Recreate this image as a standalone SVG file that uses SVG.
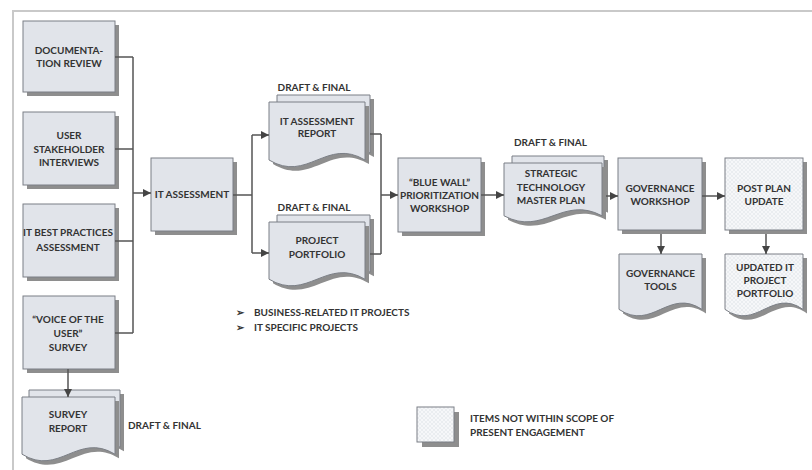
<svg xmlns="http://www.w3.org/2000/svg" xmlns:xlink="http://www.w3.org/1999/xlink" width="812" height="470" viewBox="0 0 812 470">
  <style>
    .frame { fill: none; stroke: #c9c9c9; stroke-width: 2; }
    .box { fill: #e1e4ea; stroke: #7b7f86; stroke-width: 1; }
    .oos { fill: url(#hatch); stroke: #7b7f86; stroke-width: 1; }
    .shadow { fill: #8e8e8e; stroke: none; }
    .lbl { font-family: Lato, "Liberation Sans", sans-serif; font-weight: 700; font-size: 10px; fill: #333; text-anchor: middle; }
    .note { font-family: Lato, "Liberation Sans", sans-serif; font-weight: 700; font-size: 10px; fill: #333; }
    .wire { fill: none; stroke: #555; stroke-width: 1.5; }
  </style>
  <defs>
    <marker id="head" viewBox="0 0 10 10" refX="10" refY="5" markerWidth="9" markerHeight="8" markerUnits="userSpaceOnUse" orient="auto">
      <path d="M0,0 L10,5 L0,10 Z" fill="#444"/>
    </marker>
    <pattern id="hatch" width="4" height="4" patternUnits="userSpaceOnUse">
      <rect width="4" height="4" fill="#f6f7f9"/>
      <path d="M0,0 L4,4 M4,0 L0,4" stroke="#e2e5ea" stroke-width="0.6"/>
    </pattern>
  </defs>

  <!-- outer frame -->
  <path class="frame" d="M13,470 V11 H812"/>

  <!-- input boxes -->
  <g id="doc-review">
    <rect class="shadow" x="27" y="25" width="92" height="71"/>
    <rect class="box" x="23" y="21" width="92" height="71"/>
    <text class="lbl" x="69" y="54">DOCUMENTA-</text>
    <text class="lbl" x="69" y="67">TION REVIEW</text>
  </g>
  <g id="stakeholder-interviews">
    <rect class="shadow" x="27" y="116" width="92" height="73"/>
    <rect class="box" x="23" y="112" width="92" height="73"/>
    <text class="lbl" x="69" y="139">USER</text>
    <text class="lbl" x="69" y="152.5">STAKEHOLDER</text>
    <text class="lbl" x="69" y="166">INTERVIEWS</text>
  </g>
  <g id="best-practices">
    <rect class="shadow" x="27" y="208" width="92" height="73"/>
    <rect class="box" x="23" y="204" width="92" height="73"/>
    <text class="lbl" x="68" y="236">IT BEST PRACTICES</text>
    <text class="lbl" x="68" y="250.5">ASSESSMENT</text>
  </g>
  <g id="voice-survey">
    <rect class="shadow" x="27" y="300" width="92" height="73"/>
    <rect class="box" x="23" y="296" width="92" height="73"/>
    <text class="lbl" x="68" y="323">“VOICE OF THE</text>
    <text class="lbl" x="68" y="337">USER”</text>
    <text class="lbl" x="68" y="350.5">SURVEY</text>
  </g>

  <!-- survey report (stacked document) -->
  <g id="survey-report">
    <path class="shadow" transform="translate(4,4)" d="M29,390 H120 V447.2 C83.6,424.5 65.4,470 29,447.2 Z"/>
    <path class="box" d="M29,390 H120 V447.2 C83.6,424.5 65.4,470 29,447.2 Z"/>
    <path class="shadow" transform="translate(4,4)" d="M22,397 H115 V454.2 C77.8,431.5 59.2,477 22,454.2 Z"/>
    <path class="box" d="M22,397 H115 V454.2 C77.8,431.5 59.2,477 22,454.2 Z"/>
    <text class="lbl" x="68" y="417.5">SURVEY</text>
    <text class="lbl" x="68" y="431.5">REPORT</text>
    <text class="note" x="128" y="428.5">DRAFT &amp; FINAL</text>
  </g>

  <g id="it-assessment">
    <rect class="shadow" x="155" y="162" width="82" height="73"/>
    <rect class="box" x="151" y="158" width="82" height="73"/>
    <text class="lbl" x="192" y="197.5">IT ASSESSMENT</text>
  </g>

  <!-- IT assessment report (stacked document) -->
  <g id="assessment-report">
    <text class="lbl" x="314" y="90.5">DRAFT &amp; FINAL</text>
    <path class="shadow" transform="translate(4,4)" d="M277,95 H370 V153 C332.8,130 314.2,176.2 277,153 Z"/>
    <path class="box" d="M277,95 H370 V153 C332.8,130 314.2,176.2 277,153 Z"/>
    <path class="shadow" transform="translate(4,4)" d="M269,102 H365 V160 C326.6,137 307.4,183.2 269,160 Z"/>
    <path class="box" d="M269,102 H365 V160 C326.6,137 307.4,183.2 269,160 Z"/>
    <text class="lbl" x="317" y="124.5">IT ASSESSMENT</text>
    <text class="lbl" x="317" y="137">REPORT</text>
  </g>

  <!-- project portfolio (stacked document) -->
  <g id="project-portfolio">
    <text class="lbl" x="314" y="210.5">DRAFT &amp; FINAL</text>
    <path class="shadow" transform="translate(4,4)" d="M277,215 H370 V272.2 C332.8,249.5 314.2,295 277,272.2 Z"/>
    <path class="box" d="M277,215 H370 V272.2 C332.8,249.5 314.2,295 277,272.2 Z"/>
    <path class="shadow" transform="translate(4,4)" d="M269,222 H365 V279.2 C326.6,256.5 307.4,302 269,279.2 Z"/>
    <path class="box" d="M269,222 H365 V279.2 C326.6,256.5 307.4,302 269,279.2 Z"/>
    <text class="lbl" x="317" y="243.5">PROJECT</text>
    <text class="lbl" x="317" y="257.5">PORTFOLIO</text>
  </g>

  <!-- portfolio contents -->
  <g id="portfolio-notes">
    <text class="note" x="236" y="315.5">➢</text>
    <text class="note" x="254" y="315.5">BUSINESS-RELATED IT PROJECTS</text>
    <text class="note" x="236" y="330.5">➢</text>
    <text class="note" x="254" y="330.5">IT SPECIFIC PROJECTS</text>
  </g>

  <g id="blue-wall">
    <rect class="shadow" x="402" y="162" width="83" height="74"/>
    <rect class="box" x="398" y="158" width="83" height="74"/>
    <text class="lbl" x="439.5" y="185.5">“BLUE WALL”</text>
    <text class="lbl" x="439.5" y="198.5">PRIORITIZATION</text>
    <text class="lbl" x="439.5" y="211.5">WORKSHOP</text>
  </g>

  <!-- strategic technology master plan (stacked document) -->
  <g id="master-plan">
    <text class="note" x="514" y="145.5">DRAFT &amp; FINAL</text>
    <path class="shadow" transform="translate(4,4)" d="M512,156 H604 V208.8 C567.2,187.8 548.8,229.8 512,208.8 Z"/>
    <path class="box" d="M512,156 H604 V208.8 C567.2,187.8 548.8,229.8 512,208.8 Z"/>
    <path class="shadow" transform="translate(4,4)" d="M504,163 H602 V215.8 C562.8,194.8 543.2,236.8 504,215.8 Z"/>
    <path class="box" d="M504,163 H602 V215.8 C562.8,194.8 543.2,236.8 504,215.8 Z"/>
    <text class="lbl" x="551" y="176.5">STRATEGIC</text>
    <text class="lbl" x="551" y="190.5">TECHNOLOGY</text>
    <text class="lbl" x="551" y="204">MASTER PLAN</text>
  </g>

  <g id="governance-workshop">
    <rect class="shadow" x="622" y="162" width="84" height="72"/>
    <rect class="box" x="618" y="158" width="84" height="72"/>
    <text class="lbl" x="660" y="191.5">GOVERNANCE</text>
    <text class="lbl" x="660" y="205">WORKSHOP</text>
  </g>

  <g id="post-plan-update">
    <rect class="shadow" x="729" y="162" width="78" height="72"/>
    <rect class="oos" x="725" y="158" width="78" height="72"/>
    <text class="lbl" x="764" y="191.5">POST PLAN</text>
    <text class="lbl" x="764" y="205">UPDATE</text>
  </g>

  <g id="governance-tools">
    <path class="shadow" transform="translate(4,4)" d="M619,254 H702 V309.4 C668.8,287.4 652.2,331.5 619,309.4 Z"/>
    <path class="box" d="M619,254 H702 V309.4 C668.8,287.4 652.2,331.5 619,309.4 Z"/>
    <text class="lbl" x="660.5" y="276.5">GOVERNANCE</text>
    <text class="lbl" x="660.5" y="290">TOOLS</text>
  </g>

  <g id="updated-portfolio">
    <path class="shadow" transform="translate(4,4)" d="M725,254 H803 V309.4 C771.8,287.4 756.2,331.5 725,309.4 Z"/>
    <path class="oos" d="M725,254 H803 V309.4 C771.8,287.4 756.2,331.5 725,309.4 Z"/>
    <text class="lbl" x="765" y="270.5">UPDATED IT</text>
    <text class="lbl" x="765" y="283.5">PROJECT</text>
    <text class="lbl" x="765" y="296.5">PORTFOLIO</text>
  </g>

  <!-- legend -->
  <g id="legend">
    <rect class="shadow" x="422" y="412" width="37" height="35"/>
    <rect class="oos" x="417" y="407" width="37" height="35"/>
    <text class="note" x="470" y="421.5">ITEMS NOT WITHIN SCOPE OF</text>
    <text class="note" x="470" y="435.5">PRESENT ENGAGEMENT</text>
  </g>

  <!-- connectors, drawn over the shapes they join -->
  <g id="connectors">
    <path class="wire" d="M115,57 H133 M115,149 H133 M115,241 H133 M115,333 H133 M133,57 V333"/>
    <path class="wire" marker-end="url(#head)" d="M133,193 H151"/>
    <path class="wire" marker-end="url(#head)" d="M68,369 V397"/>
    <path class="wire" d="M233,195 H252 M252,135 V253"/>
    <path class="wire" marker-end="url(#head)" d="M252,135 H269"/>
    <path class="wire" marker-end="url(#head)" d="M252,253 H269"/>
    <path class="wire" d="M370,134 H381 M370,254 H381 M381,134 V254"/>
    <path class="wire" marker-end="url(#head)" d="M381,195 H398"/>
    <path class="wire" marker-end="url(#head)" d="M481,195 H504"/>
    <path class="wire" marker-end="url(#head)" d="M606,196 H618"/>
    <path class="wire" marker-end="url(#head)" d="M702,196 H725"/>
    <path class="wire" marker-end="url(#head)" d="M661,234 V254"/>
    <path class="wire" marker-end="url(#head)" d="M766,234 V254"/>
  </g>
</svg>
